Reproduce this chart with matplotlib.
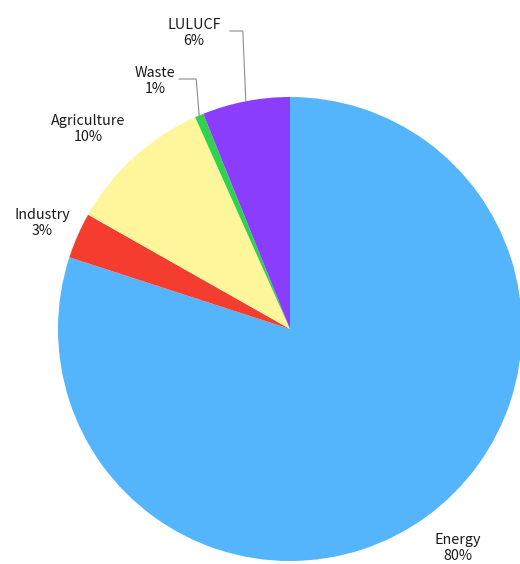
import numpy as np
import matplotlib
matplotlib.use("Agg")
import matplotlib.pyplot as plt

categories = ["Energy", "Industry", "Agriculture", "Waste", "LULUCF"]
shares = [80.0, 3.2, 10.1, 0.6, 6.1]
pct_labels = ["80%", "3%", "10%", "1%", "6%"]
colors = ["#55B5FC", "#F43C2F", "#FFF59B", "#2ED24C", "#8A3DFD"]

W, H = 520, 564
fig = plt.figure(figsize=(W / 100, H / 100), dpi=100)
ax = fig.add_axes([0, 0, 1, 1])

cx, cy, r = 290, H - 329, 232
wedges, _ = ax.pie(shares, colors=colors, startangle=90, counterclock=False,
                   center=(cx, cy), radius=r, frame=True,
                   wedgeprops=dict(linewidth=0))
ax.set_xlim(0, W)
ax.set_ylim(0, H)
ax.axis("off")

plt.rcParams['font.family'] = ['Noto Sans CJK JP', 'DejaVu Sans']
font = dict(fontsize=10.3, color="#1a1a1a", ha="center", va="center",
            family=['Noto Sans CJK JP', 'DejaVu Sans'], linespacing=1.2)

# label centres (image pixel coords)
label_pos = {
    "Energy": (458, 548),
    "Industry": (42, 223),
    "Agriculture": (88, 129),
    "Waste": (155, 81),
    "LULUCF": (194, 33),
}
leader_start = {"Waste": 179, "LULUCF": 230}

for w, name, pct in zip(wedges, categories, pct_labels):
    x, y_img = label_pos[name]
    ax.text(x, H - y_img, f"{name}\n{pct}", **font)
    if name in leader_start:
        mid = np.deg2rad((w.theta1 + w.theta2) / 2)
        tx = cx + r * np.cos(mid)
        ty = cy + r * np.sin(mid)
        ly = H - (y_img - 2)
        ax.plot([leader_start[name], tx - 3, tx], [ly, ly, ty],
                color="#8c8c8c", lw=0.8)

fig.savefig("out.png", dpi=100)
